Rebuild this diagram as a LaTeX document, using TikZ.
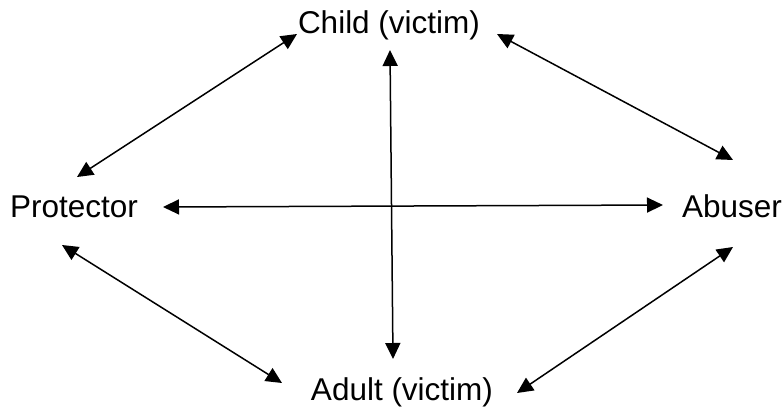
\documentclass[tikz,border=0pt]{standalone}
\usepackage{fontspec}
\setmainfont{Liberation Sans}
\usetikzlibrary{arrows.meta}
\begin{document}
\begin{tikzpicture}[x=1pt,y=-1pt,
  lbl/.style={anchor=base,inner sep=0pt,font=\fontsize{31.5}{36}\selectfont},
  link/.style={line width=1.5pt,{Triangle[length=16pt,width=15pt]}-{Triangle[length=16pt,width=15pt]}}]
\useasboundingbox (0,0) rectangle (784,407);
\node[lbl] (child) at (389,33) {Child (victim)};
\node[lbl] (prot) at (74,217) {Protector};
\node[lbl] (abuser) at (732,217) {Abuser};
\node[lbl] (adult) at (402,400) {Adult (victim)};
\coordinate (cp) at (297,34);
\coordinate (pc) at (77,177);
\coordinate (ca) at (497,34);
\coordinate (ac) at (733,160);
\coordinate (ph) at (163,207);
\coordinate (ah) at (663,205);
\coordinate (cv) at (390,50);
\coordinate (dv) at (393,359);
\coordinate (pd) at (62,245);
\coordinate (dp) at (282,383);
\coordinate (da) at (517,393);
\coordinate (ad) at (733,247);
\draw[link] (cp) -- (pc);
\draw[link] (ca) -- (ac);
\draw[link] (ph) -- (ah);
\draw[link] (cv) -- (dv);
\draw[link] (pd) -- (dp);
\draw[link] (da) -- (ad);
\end{tikzpicture}
\end{document}
